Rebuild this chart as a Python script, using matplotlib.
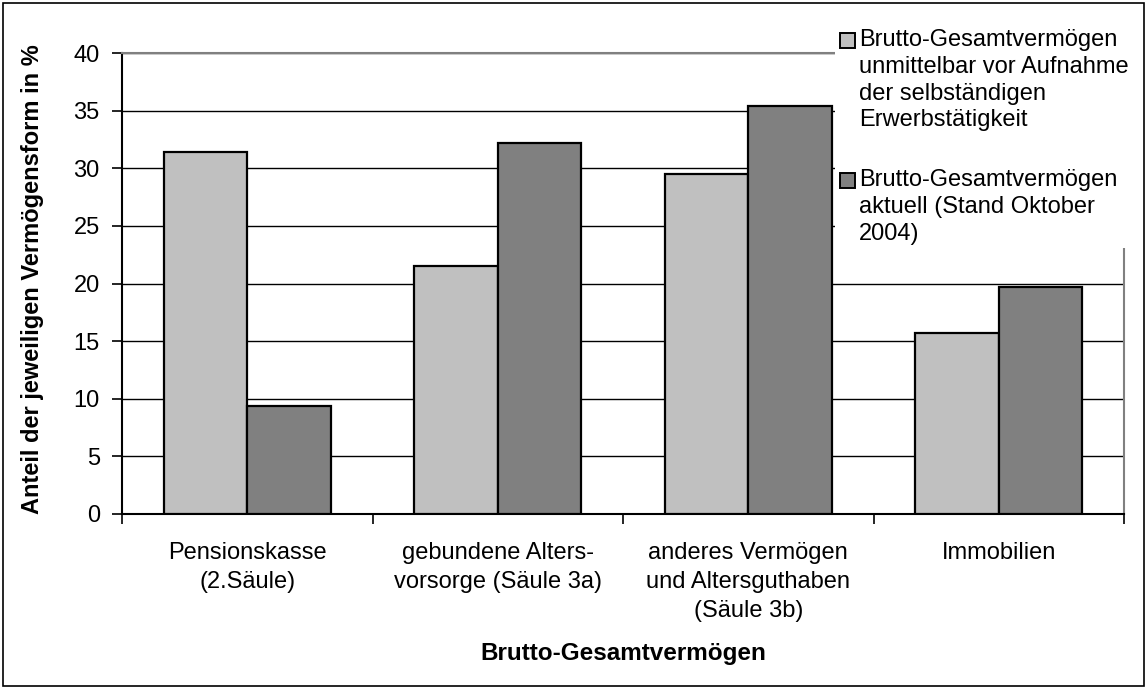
import numpy as np
import matplotlib
matplotlib.use("Agg")
import matplotlib.pyplot as plt
from matplotlib.patches import Rectangle

plt.rcParams['font.family'] = ['Liberation Sans', 'DejaVu Sans']

categories = ["Pensionskasse\n(2.Säule)",
              "gebundene Alters-\nvorsorge (Säule 3a)",
              "anderes Vermögen\nund Altersguthaben\n(Säule 3b)",
              "Immobilien"]
vor_aufnahme = [31.4, 21.5, 29.5, 15.7]
aktuell = [9.4, 32.2, 35.4, 19.7]
series_labels = ["Brutto-Gesamtvermögen\nunmittelbar vor Aufnahme\nder selbständigen\nErwerbstätigkeit",
                 "Brutto-Gesamtvermögen\naktuell (Stand Oktober\n2004)"]
series_colors = ["#c0c0c0", "#808080"]
yticks = [0, 5, 10, 15, 20, 25, 30, 35, 40]

W, H = 1146, 688
fs = 17
fig = plt.figure(figsize=(W / 100, H / 100), dpi=100)
ax = fig.add_axes([122 / W, 1 - 514 / H, (1124 - 122) / W, (514 - 53) / H])

x = np.arange(len(categories))
bw = 1 / 3
ax.bar(x - bw / 2, vor_aufnahme, bw, color=series_colors[0], edgecolor="black", linewidth=1.6, zorder=3)
ax.bar(x + bw / 2, aktuell, bw, color=series_colors[1], edgecolor="black", linewidth=1.6, zorder=3)

ax.set_xlim(-0.5, len(categories) - 0.5)
ax.set_ylim(0, 40)
ax.set_yticks(yticks)
ax.yaxis.grid(True, color="black", linewidth=1.0)
ax.set_axisbelow(True)

# category labels in the middle, tick marks between groups
ax.set_xticks(x)
ax.set_xticklabels(categories, fontsize=fs, linespacing=1.42)
ax.tick_params(axis="x", which="major", length=0, pad=20)
ax.set_xticks(np.arange(-0.5, len(categories)), minor=True)
ax.tick_params(axis="x", which="minor", length=7, width=1.2, direction="out")
ax.tick_params(axis="y", length=7, width=1.2, direction="out", labelsize=fs, pad=9)

for s in ["top", "right"]:
    ax.spines[s].set_color("#808080")
    ax.spines[s].set_linewidth(1.5)
for s in ["left", "bottom"]:
    ax.spines[s].set_color("black")
    ax.spines[s].set_linewidth(1.5)

ax.set_ylabel("Anteil der jeweiligen Vermögensform in %", fontsize=17, fontweight="bold")
ax.yaxis.set_label_coords(-0.0898, 0.509)
ax.yaxis.label.set_va("center")
ax.set_xlabel("Brutto-Gesamtvermögen", fontsize=17.5, fontweight="bold")
ax.xaxis.set_label_coords(0.5, -0.302)
ax.xaxis.label.set_va("center")

# legend drawn by hand so the box sits beside the first line
fig.patches.append(Rectangle((835 / W, 1 - 248 / H), (1141 - 835) / W, (248 - 22) / H,
                             transform=fig.transFigure, facecolor="white", edgecolor="none", zorder=4))
tops = [29, 169]
for lab, col, t in zip(series_labels, series_colors, tops):
    fig.patches.append(Rectangle((840 / W, 1 - (t + 19) / H), 15 / W, 15 / H,
                                 transform=fig.transFigure, facecolor=col,
                                 edgecolor="black", linewidth=1.4, zorder=5))
    fig.text(859 / W, 1 - t / H, lab, fontsize=fs, va="top", ha="left",
             linespacing=1.28, zorder=5)

# outer frame
fig.patches.append(Rectangle((2.5 / W, 2.5 / H), 1 - 5 / W, 1 - 5 / H, transform=fig.transFigure,
                             fill=False, edgecolor="black", linewidth=1.2, zorder=6))

fig.savefig("out.png", dpi=100)
